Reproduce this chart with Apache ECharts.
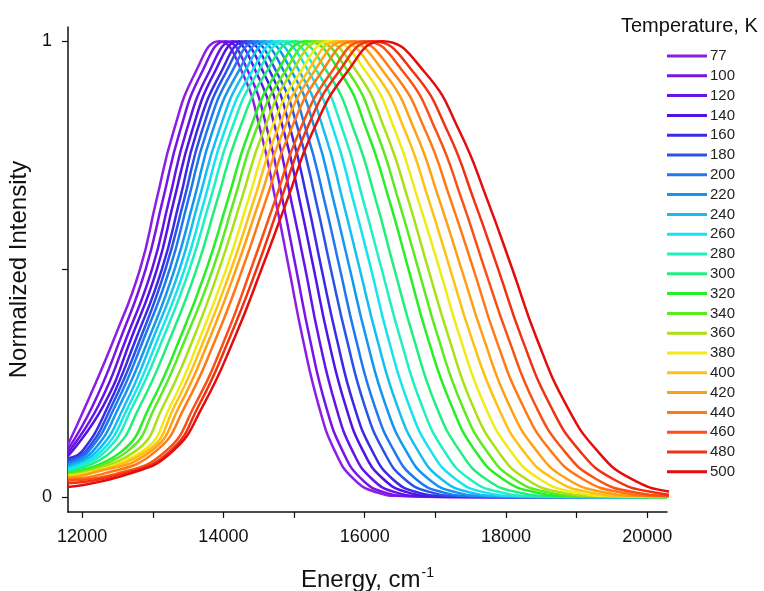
<!DOCTYPE html>
<html>
<head>
<meta charset="utf-8">
<script src="https://cdn.jsdelivr.net/npm/echarts@6/dist/echarts.min.js"></script>
<style>html,body{margin:0;padding:0;background:#fff;}#c{width:764px;height:591px;}</style>
</head>
<body>
<div id="c"></div>
<script>
// Temperatures (K) and line colours
const temps = ['77','100','120','140','160','180','200','220','240','260','280','300','320','340','360','380','400','420','440','460','480','500'];
const colors = ['#8c1ee6','#7814e6','#6414e6','#5014e6','#3a2ae6','#2a52e8','#1e78f0','#1496f0','#14bef0','#14e4f0','#1ef0c0','#1ef080','#28ee28','#5aeb1e','#aae014','#f0eb14','#ffc014','#ffa014','#ff7814','#fa5014','#f03214','#e40c0c'];

// Normalized spectra [energy cm-1, intensity]
const s77  = [[11800,.115],[12050,.2],[12460,.35],[12820,.5],[13050,.65],[13290,.8],[13600,.93],[13940,1],[14270,.93],[14530,.8],[14740,.65],[14930,.5],[15120,.35],[15350,.2],[15580,.1],[15840,.04],[16170,.01],[16510,.002],[17110,0],[19200,0]];
const s100 = [[11800,.105],[12150,.2],[12550,.35],[12900,.5],[13140,.65],[13380,.8],[13690,.93],[14030,1],[14360,.93],[14630,.8],[14840,.65],[15030,.5],[15220,.35],[15450,.2],[15690,.1],[15950,.04],[16280,.01],[16630,.002],[17220,0],[19400,0]];
const s120 = [[11800,.097],[12230,.2],[12630,.35],[12990,.5],[13230,.65],[13470,.8],[13790,.93],[14130,1],[14470,.93],[14750,.8],[14960,.65],[15160,.5],[15350,.35],[15590,.2],[15830,.1],[16100,.04],[16440,.01],[16800,.002],[17410,0],[19600,0]];
const s140 = [[11800,.09],[12300,.2],[12700,.35],[13060,.5],[13300,.65],[13550,.8],[13870,.93],[14220,1],[14570,.93],[14860,.8],[15080,.65],[15280,.5],[15480,.35],[15730,.2],[15980,.1],[16260,.04],[16610,.01],[16980,.002],[17620,0],[19800,0]];
const s160 = [[11800,.085],[12000,.1],[12370,.2],[12770,.35],[13130,.5],[13380,.65],[13620,.8],[13960,.93],[14310,1],[14670,.93],[14960,.8],[15190,.65],[15390,.5],[15600,.35],[15850,.2],[16110,.1],[16390,.04],[16750,.01],[17130,.002],[17780,0],[20000,0]];
const s180 = [[11800,.08],[12050,.1],[12420,.2],[12830,.35],[13180,.5],[13440,.65],[13690,.8],[14030,.93],[14390,1],[14760,.93],[15070,.8],[15310,.65],[15520,.5],[15740,.35],[16000,.2],[16270,.1],[16560,.04],[16940,.01],[17330,.002],[18010,0],[20280,0]];
const s200 = [[11800,.075],[12090,.1],[12470,.2],[12880,.35],[13240,.5],[13500,.65],[13760,.8],[14110,.93],[14480,1],[14870,.93],[15180,.8],[15430,.65],[15650,.5],[15870,.35],[16140,.2],[16420,.1],[16720,.04],[17110,.01],[17520,.002],[18220,0],[20280,0]];
const s220 = [[11800,.07],[12150,.1],[12530,.2],[12950,.35],[13310,.5],[13580,.65],[13840,.8],[14200,.93],[14580,1],[14980,.93],[15310,.8],[15560,.65],[15790,.5],[16020,.35],[16300,.2],[16590,.1],[16900,.04],[17300,.01],[17720,.002],[18450,0],[20280,0]];
const s240 = [[11800,.066],[12210,.1],[12600,.2],[13010,.35],[13380,.5],[13650,.65],[13930,.8],[14290,.93],[14680,1],[15090,.93],[15430,.8],[15690,.65],[15930,.5],[16170,.35],[16460,.2],[16760,.1],[17080,.04],[17490,.01],[17930,.002],[18680,0],[20280,0]];
const s260 = [[11800,.062],[12270,.1],[12660,.2],[13080,.35],[13450,.5],[13730,.65],[14010,.8],[14390,.93],[14790,1],[15220,.93],[15570,.8],[15840,.65],[16090,.5],[16330,.35],[16630,.2],[16940,.1],[17280,.04],[17700,.01],[18160,.002],[18930,0],[20280,0]];
const s280 = [[11800,.058],[12330,.1],[12720,.2],[13150,.35],[13520,.5],[13810,.65],[14100,.8],[14480,.93],[14890,1],[15340,.93],[15700,.8],[15980,.65],[16240,.5],[16500,.35],[16810,.2],[17130,.1],[17480,.04],[17930,.01],[18400,.002],[19210,0],[20280,0]];
const s300 = [[11800,.055],[12420,.1],[12820,.2],[13250,.35],[13620,.5],[13910,.65],[14210,.8],[14600,.93],[15020,1],[15480,.93],[15860,.8],[16160,.65],[16420,.5],[16690,.35],[17010,.2],[17350,.1],[17710,.04],[18180,.01],[18670,.002],[19510,0],[20280,0]];
const s320 = [[11800,.052],[12560,.1],[12960,.2],[13390,.35],[13760,.5],[14060,.65],[14360,.8],[14750,.93],[15180,1],[15660,.93],[16040,.8],[16350,.65],[16620,.5],[16890,.35],[17230,.2],[17570,.1],[17950,.04],[18420,.01],[18920,.002],[19790,0],[20280,0]];
const s340 = [[11800,.05],[12640,.1],[13040,.2],[13470,.35],[13850,.5],[14150,.65],[14450,.8],[14860,.93],[15290,1],[15780,.93],[16170,.8],[16480,.65],[16760,.5],[17040,.35],[17380,.2],[17730,.1],[18110,.04],[18600,.01],[19120,.002],[20000,0],[20280,0]];
const s360 = [[11800,.048],[12750,.1],[13150,.2],[13580,.35],[13940,.5],[14250,.65],[14560,.8],[14960,.93],[15400,1],[15900,.93],[16300,.8],[16620,.65],[16900,.5],[17190,.35],[17530,.2],[17890,.1],[18280,.04],[18780,.01],[19300,.002],[20200,0]];
const s380 = [[11800,.046],[12850,.1],[13250,.2],[13670,.35],[14040,.5],[14350,.65],[14660,.8],[15080,.93],[15520,1],[16030,.93],[16440,.8],[16760,.65],[17060,.5],[17350,.35],[17700,.2],[18070,.1],[18470,.04],[18980,.01],[19510,.002],[20440,0]];
const s400 = [[11800,.044],[12910,.1],[13310,.2],[13740,.35],[14110,.5],[14430,.65],[14750,.8],[15180,.93],[15630,1],[16150,.93],[16580,.8],[16910,.65],[17210,.5],[17510,.35],[17880,.2],[18250,.1],[18670,.04],[19190,.01],[19740,.002],[20690,0]];
const s420 = [[11800,.042],[12080,.05],[12970,.1],[13380,.2],[13810,.35],[14180,.5],[14510,.65],[14840,.8],[15270,.93],[15740,1],[16280,.93],[16720,.8],[17060,.65],[17370,.5],[17680,.35],[18050,.2],[18440,.1],[18860,.04],[19400,.01],[19970,.002],[20940,0]];
const s440 = [[11800,.04],[12280,.05],[13040,.1],[13460,.2],[13900,.35],[14270,.5],[14600,.65],[14940,.8],[15380,.93],[15860,1],[16410,.93],[16870,.8],[17220,.65],[17540,.5],[17850,.35],[18240,.2],[18640,.1],[19080,.04],[19630,.01],[20220,.002],[21220,0]];
const s460 = [[11800,.036],[12470,.05],[13180,.1],[13590,.2],[14030,.35],[14390,.5],[14730,.65],[15070,.8],[15520,.93],[16000,1],[16560,.93],[17020,.8],[17380,.65],[17700,.5],[18030,.35],[18420,.2],[18830,.1],[19270,.04],[19830,.01],[20430,.002],[21450,0]];
const s480 = [[11800,.03],[12560,.05],[13240,.1],[13650,.2],[14090,.35],[14470,.5],[14810,.65],[15160,.8],[15620,.93],[16120,1],[16700,.93],[17180,.8],[17550,.65],[17890,.5],[18220,.35],[18630,.2],[19050,.1],[19510,.04],[20100,.01],[20710,.002],[21770,0]];
const s500 = [[11800,.022],[12650,.05],[13280,.1],[13710,.2],[14160,.35],[14540,.5],[14900,.65],[15260,.8],[15740,.93],[16250,1],[16860,.93],[17350,.8],[17740,.65],[18090,.5],[18430,.35],[18860,.2],[19300,.1],[19770,.04],[20380,.01],[21020,.002],[22120,0]];

const spectra = [s77,s100,s120,s140,s160,s180,s200,s220,s240,s260,s280,s300,s320,s340,s360,s380,s400,s420,s440,s460,s480,s500];

// Axis ticks and labels
const xTicks = [12000,13000,14000,15000,16000,17000,18000,19000,20000];
const xLabels = [12000,14000,16000,18000,20000];
const yTicks = [0,0.5,1];
const yLabels = [0,1];

const FONT = 'Liberation Sans, Arial, sans-serif';
const chart = echarts.init(document.getElementById('c'), null, {renderer:'canvas'});

chart.setOption({
  backgroundColor: '#ffffff',
  animation: false,
  title: {
    text: 'Temperature, K',
    left: 616, top: 11,
    textStyle: {fontFamily: FONT, fontSize: 20, fontWeight: 'normal', color: '#111'}
  },
  legend: {
    orient: 'vertical',
    left: 667, top: 48,
    data: temps,
    icon: 'rect',
    itemWidth: 40, itemHeight: 3,
    itemGap: 3.8,
    padding: 0,
    textStyle: {fontFamily: FONT, fontSize: 15, color: '#222', lineHeight: 16, padding: [0,0,0,-2]}
  },
  grid: {left: 68, right: 97, top: 27, bottom: 79, containLabel: false, outerBoundsMode: 'none'},
  xAxis: {
    type: 'value', min: 11800, max: 20280,
    name: 'Energy, cm{sup|-1}',
    nameLocation: 'middle', nameGap: 54,
    nameTextStyle: {fontFamily: FONT, fontSize: 24, color: '#111',
      rich: {sup: {fontFamily: FONT, fontSize: 14, verticalAlign: 'top', padding: [0,0,14,1], color: '#111'}}},
    axisLine: {show: true, onZero: false, lineStyle: {color: '#111', width: 1.5}},
    axisTick: {show: true, inside: false, length: 6, customValues: xTicks, lineStyle: {color: '#111', width: 1.2}},
    axisLabel: {customValues: xLabels, margin: 16, fontFamily: FONT, fontSize: 18, color: '#111',
      formatter: function (v) { return String(v); }},
    splitLine: {show: false}
  },
  yAxis: {
    type: 'value', min: -0.033, max: 1.031,
    name: 'Normalized Intensity',
    nameLocation: 'middle', nameGap: 18, nameRotate: 90,
    nameTextStyle: {fontFamily: FONT, fontSize: 24, color: '#111'},
    axisLine: {show: true, onZero: false, lineStyle: {color: '#111', width: 1.5}},
    axisTick: {show: true, inside: false, length: 6, customValues: yTicks, lineStyle: {color: '#111', width: 1.2}},
    axisLabel: {customValues: yLabels, margin: 16, fontFamily: FONT, fontSize: 18, color: '#111'},
    splitLine: {show: false}
  },
  series: spectra.map((d, i) => ({
    name: temps[i],
    type: 'line',
    data: d,
    showSymbol: false,
    smooth: 0.5,
    clip: true,
    color: colors[i],
    lineStyle: {width: 2.5, color: colors[i]},
    emphasis: {disabled: true}
  }))
});
</script>
</body>
</html>
